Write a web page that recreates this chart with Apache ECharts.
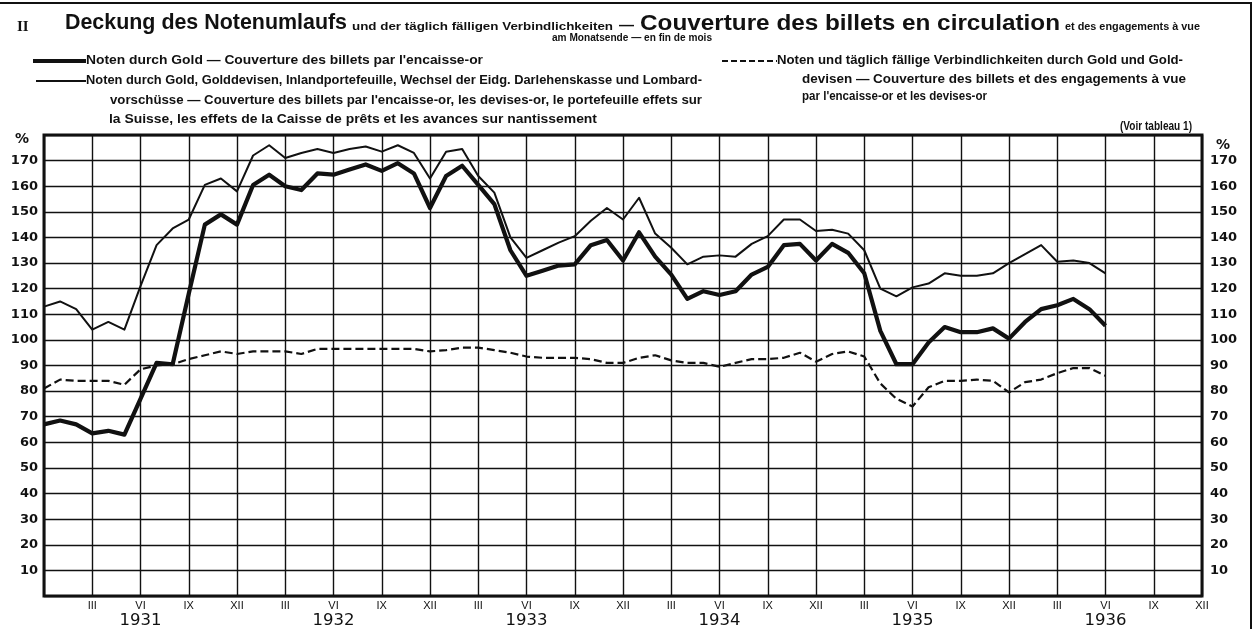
<!DOCTYPE html>
<html>
<head>
<meta charset="utf-8">
<title>Deckung des Notenumlaufs</title>
<script src="https://cdn.jsdelivr.net/npm/echarts/dist/echarts.min.js"></script>
<style>
    html, body { margin: 0; padding: 0; background: #fff; }
    #chart { width: 1257px; height: 629px; }
</style>
</head>
<body>
<div id="chart"></div>
<script>
// month-end values, Dec 1930 .. Jun 1936 (axis runs to Dec 1936)
const firstYear = 1930, firstMonth = 12, monthCount = 73
const romanMonths = ["I", "II", "III", "IV", "V", "VI", "VII", "VIII", "IX", "X", "XI", "XII"]
const yearLabelMonth = 6

const seriesNames = [
    "Noten durch Gold",
    "Noten durch Gold, Golddevisen, Inlandportefeuille, Wechsel der Eidg. Darlehenskasse und Lombardvorschüsse",
    "Noten und täglich fällige Verbindlichkeiten durch Gold und Golddevisen"
]

// Noten durch Gold (thick)
const goldCover = [
    67, 68.5, 67, 63.5, 64.5, 63, 77, 91, 90.5, 118, 145, 149,
    145, 160.5, 164.5, 160, 158.5, 165, 164.5, 166.5, 168.5, 166, 169, 165,
    151.5, 164, 168, 160.5, 153, 135, 125, 127, 129, 129.5, 137, 139,
    131, 142, 132.5, 125.5, 116, 119, 117.5, 119, 125.5, 128.5, 137, 137.5,
    131, 137.5, 134, 126, 103.5, 90.5, 90.5, 99, 105, 103, 103, 104.5,
    100.5, 107, 112, 113.5, 116, 112, 105.5
]
// Noten durch Gold, Golddevisen, Inlandportefeuille ... (thin)
const totalCover = [
    113, 115, 112, 104, 107, 104, 121, 137, 143.5, 147, 160.5, 163,
    158, 172, 176, 171, 173, 174.5, 173, 174.5, 175.5, 173.5, 176, 173,
    163, 173.5, 174.5, 164, 157.5, 140, 132, 135, 138, 140.5, 146.5, 151.5,
    147, 155.5, 141.5, 136, 129.5, 132.5, 133, 132.5, 137.5, 140.5, 147, 147,
    142.5, 143, 141.5, 135, 120, 117, 120.5, 122, 126, 125, 125, 126,
    130, 133.5, 137, 130.5, 131, 130, 126
]
// Noten und täglich fällige Verbindlichkeiten durch Gold und Golddevisen (dashed)
const goldDevisenCover = [
    81, 84.5, 84, 84, 84, 82.5, 88.5, 90, 90.5, 92.5, 94, 95.5,
    94.5, 95.5, 95.5, 95.5, 94.5, 96.5, 96.5, 96.5, 96.5, 96.5, 96.5, 96.5,
    95.5, 96, 97, 97, 96, 95, 93.5, 93, 93, 93, 92.5, 91,
    91, 93, 94, 92, 91, 91, 89.5, 91, 92.5, 92.5, 93, 95,
    91.5, 94.5, 95.5, 93.5, 83, 77, 74, 81.5, 84, 84, 84.5, 84,
    79.5, 83.5, 84.5, 87, 89, 89, 86
]

const months = []
for (let i = 0; i < monthCount; i++) {
    let k = firstMonth - 1 + i
    let m = k % 12 + 1
    months.push((firstYear + Math.floor(k / 12)) + "-" + (m < 10 ? "0" + m : m))
}

function monthOf(v) { return +v.slice(5) }

const ink = "#111"
const sans = "Liberation Sans"

// set a text line at the print's letter height, then squeeze or stretch it
// sideways so it covers the same stretch of the page as in the print
const measure = document.createElement("canvas").getContext("2d")
function fitText(text, x1, x2, y, size) {
    measure.font = "bold " + size + "px '" + sans + "'"
    let sx = (x2 - x1) / measure.measureText(text).width
    return {
        type: "text", x: x1, y: y, scaleX: sx, silent: true,
        style: {
            text: text, fill: ink, fontFamily: sans, fontWeight: "bold",
            fontSize: size, align: "left", verticalAlign: "middle"
        }
    }
}

function sample(x1, x2, y, width, dash) {
    return {
        type: "line", silent: true,
        shape: { x1: x1, y1: y, x2: x2, y2: y },
        style: { stroke: ink, lineWidth: width, lineDash: dash || null }
    }
}

const graphics = [
    // page frame
    sample(0, 1252, 3, 2),
    { type: "line", silent: true, shape: { x1: 1251, y1: 2, x2: 1251, y2: 629 }, style: { stroke: ink, lineWidth: 2 } },

    {
        type: "text", x: 17, y: 27, silent: true,
        style: { text: "II", fill: ink, fontFamily: "Liberation Serif", fontWeight: "bold", fontSize: 15, verticalAlign: "middle" }
    },
    fitText("Deckung des Notenumlaufs", 65, 347, 23, 22),
    fitText("und der täglich fälligen Verbindlichkeiten", 352, 613, 27, 10.5),
    fitText("—", 619, 634, 26, 14),
    fitText("Couverture des billets en circulation", 640, 1060, 24, 22),
    fitText("et des engagements à vue", 1065, 1200, 27, 10.5),
    fitText("am Monatsende — en fin de mois", 552, 712, 38, 11),

    sample(33, 86, 61, 4),
    fitText("Noten durch Gold — Couverture des billets par l'encaisse-or", 86, 483, 61, 12),
    sample(36, 86, 81, 2),
    fitText("Noten durch Gold, Golddevisen, Inlandportefeuille, Wechsel der Eidg. Darlehenskasse und Lombard-", 86, 702, 81, 12),
    fitText("vorschüsse — Couverture des billets par l'encaisse-or, les devises-or, le portefeuille effets sur", 110, 702, 101, 12),
    fitText("la Suisse, les effets de la Caisse de prêts et les avances sur nantissement", 109, 597, 120, 12),

    sample(722, 777, 61, 2.2, [6, 3]),
    fitText("Noten und täglich fällige Verbindlichkeiten durch Gold und Gold-", 777, 1183, 61, 12),
    fitText("devisen — Couverture des billets et des engagements à vue", 802, 1186, 80, 12),
    fitText("par l'encaisse-or et les devises-or", 802, 987, 97, 12),
    fitText("(Voir tableau 1)", 1120, 1192, 127, 12),

    {
        type: "text", x: 22, y: 139, silent: true,
        style: { text: "%", fill: ink, fontFamily: "DejaVu Sans", fontWeight: "bold", fontSize: 14, align: "center", verticalAlign: "middle" }
    },
    {
        type: "text", x: 1223, y: 145, silent: true,
        style: { text: "%", fill: ink, fontFamily: "DejaVu Sans", fontWeight: "bold", fontSize: 14, align: "center", verticalAlign: "middle" }
    }
]

const valueLabel = {
    color: ink, fontFamily: "DejaVu Sans", fontWeight: "bold", fontSize: 13,
    formatter: v => (v === 0 || v === 180) ? "" : v
}

const chart = echarts.init(document.getElementById("chart"), null, { renderer: "canvas" })
const option = {
    backgroundColor: "#fff",
    animation: false,
    grid: {
        left: 44, right: 55, top: 135, bottom: 31,
        show: true, borderColor: ink, borderWidth: 3
    },
    xAxis: [{
        type: "category",
        data: months,
        boundaryGap: false,
        axisLine: { show: false },
        axisTick: { show: false },
        splitLine: {
            show: true,
            interval: (i) => i % 3 === 0,
            lineStyle: { color: ink, width: 1.4 }
        },
        axisLabel: {
            interval: (i, v) => i > 0 && monthOf(v) % 3 === 0,
            formatter: v => romanMonths[monthOf(v) - 1],
            margin: 4,
            color: ink,
            fontFamily: "Liberation Sans Narrow, Liberation Sans",
            fontSize: 11
        }
    }, {
        type: "category",
        data: months,
        boundaryGap: false,
        position: "bottom",
        offset: 0,
        axisLine: { show: false },
        axisTick: { show: false },
        splitLine: { show: false },
        axisLabel: {
            interval: (i, v) => monthOf(v) === yearLabelMonth,
            formatter: v => v.slice(0, 4),
            margin: 16,
            color: ink,
            fontFamily: "DejaVu Sans",
            fontSize: 16.5
        }
    }],
    yAxis: [{
        type: "value",
        position: "left",
        min: 0, max: 180, interval: 10,
        axisLine: { show: false },
        axisTick: { show: false },
        splitLine: { show: true, lineStyle: { color: ink, width: 1.4 } },
        axisLabel: Object.assign({ margin: 6 }, valueLabel)
    }, {
        type: "value",
        position: "right",
        min: 0, max: 180, interval: 10,
        axisLine: { show: false },
        axisTick: { show: false },
        splitLine: { show: false },
        axisLabel: Object.assign({ margin: 8 }, valueLabel)
    }],
    series: [{
        name: seriesNames[2],
        type: "line",
        data: goldDevisenCover,
        symbol: "none",
        silent: true,
        lineStyle: { color: ink, width: 2.2, type: [8, 4] },
        z: 3
    }, {
        name: seriesNames[1],
        type: "line",
        data: totalCover,
        symbol: "none",
        silent: true,
        lineStyle: { color: ink, width: 2, join: "round" },
        z: 4
    }, {
        name: seriesNames[0],
        type: "line",
        data: goldCover,
        symbol: "none",
        silent: true,
        lineStyle: { color: ink, width: 4.2, join: "round" },
        z: 5
    }],
    graphic: graphics
}
chart.setOption(option)
</script>
</body>
</html>
